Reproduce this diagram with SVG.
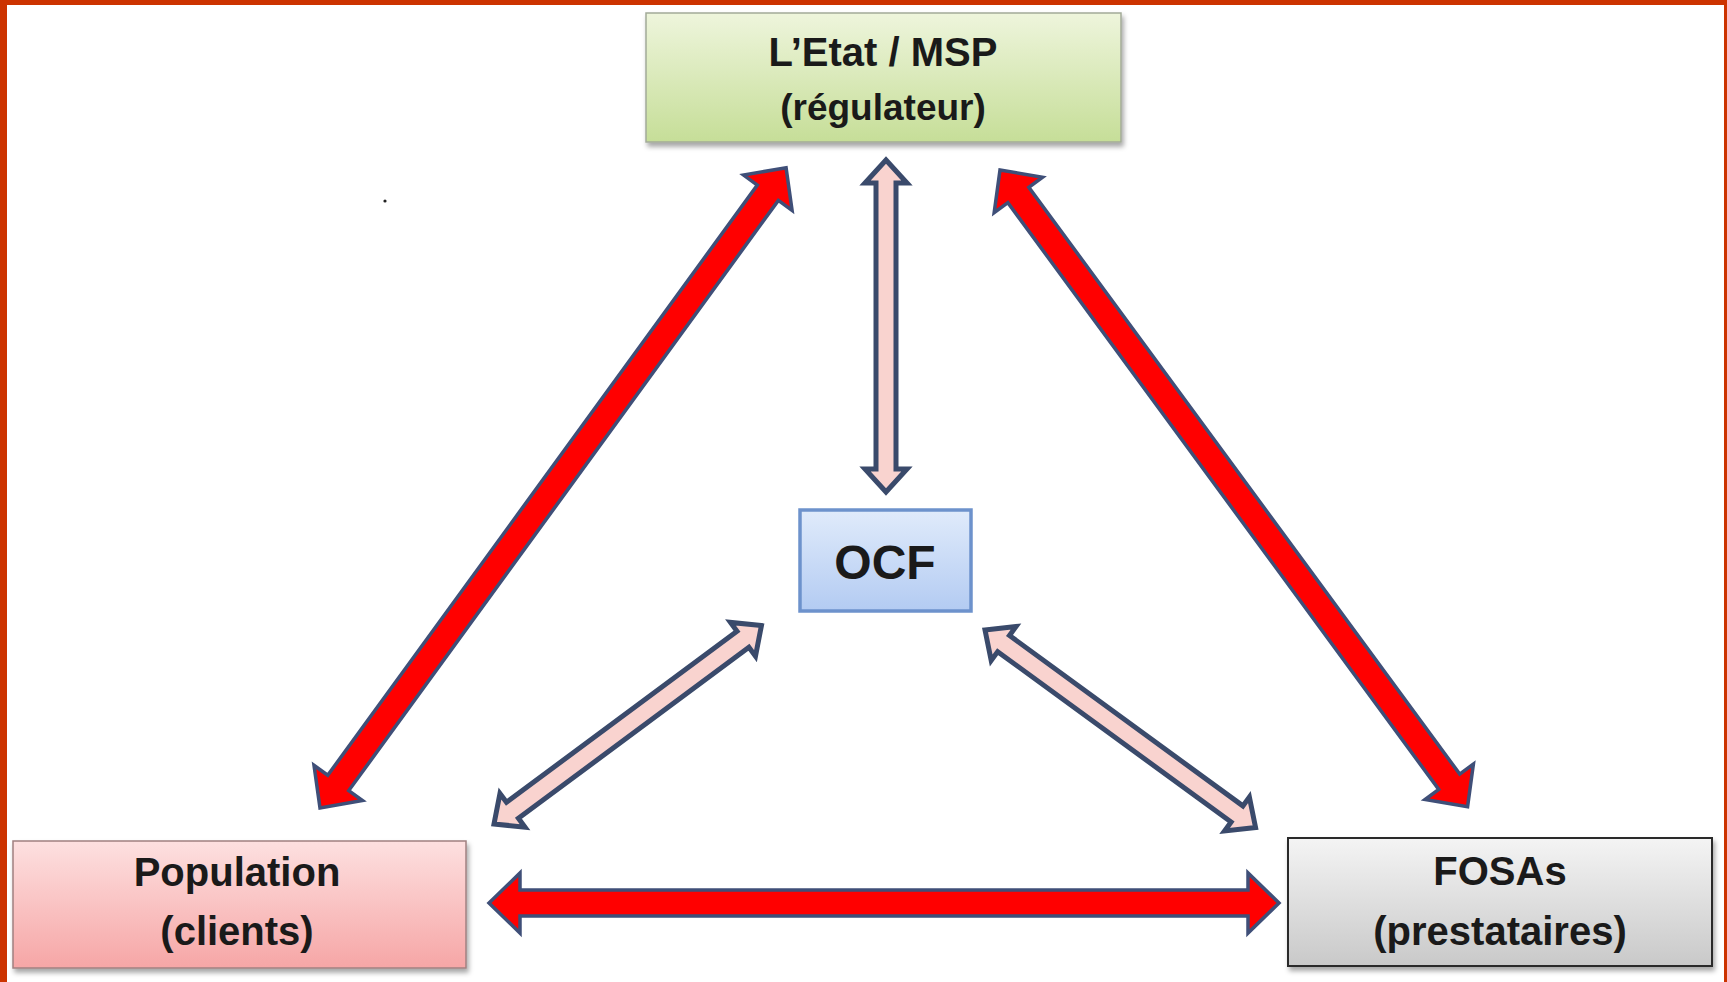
<svg xmlns="http://www.w3.org/2000/svg" width="1727" height="982" viewBox="0 0 1727 982">
  <style>
    .lbl { font-family: "Liberation Sans", Arial, sans-serif; font-weight: bold; font-size: 40px; fill: #1a1a1a; text-anchor: middle; }
    .ocf { font-size: 48px; }
    .sm { font-size: 37px; }
    .red { fill: #ff0000; stroke: #3f4f78; stroke-width: 3.5; stroke-linejoin: miter; }
    .pink { fill: #f9d3cf; stroke: #3a4a6b; stroke-width: 5; stroke-linejoin: miter; }
  </style>
  <defs>
    <linearGradient id="gGreen" x1="0" y1="0" x2="0" y2="1">
      <stop offset="0" stop-color="#eef5dc"/>
      <stop offset="1" stop-color="#c6de98"/>
    </linearGradient>
    <linearGradient id="gPink" x1="0" y1="0" x2="0" y2="1">
      <stop offset="0" stop-color="#fde0e0"/>
      <stop offset="1" stop-color="#f6a6a6"/>
    </linearGradient>
    <linearGradient id="gGray" x1="0" y1="0" x2="0" y2="1">
      <stop offset="0" stop-color="#f4f4f4"/>
      <stop offset="1" stop-color="#c9c9c9"/>
    </linearGradient>
    <linearGradient id="gBlue" x1="0" y1="0" x2="0" y2="1">
      <stop offset="0" stop-color="#e0ebfb"/>
      <stop offset="1" stop-color="#b3cbf2"/>
    </linearGradient>
    <filter id="shadow" x="-5%" y="-10%" width="115%" height="130%">
      <feDropShadow dx="2" dy="4" stdDeviation="2.5" flood-color="#000" flood-opacity="0.35"/>
    </filter>
  </defs>

  <rect x="0" y="0" width="1727" height="982" fill="#ffffff"/>
  <!-- frame -->
  <rect x="0" y="0" width="1727" height="5" fill="#cc3300"/>
  <rect x="0" y="0" width="7" height="982" fill="#cc3300"/>
  <rect x="1724" y="0" width="3" height="982" fill="#cc3300"/>

  <circle cx="385" cy="201" r="1.6" fill="#222"/>

  <g id="connectors">
    <!-- red: Population <-> Etat -->
    <g transform="translate(320,808) rotate(-53.95)">
      <polygon class="red" points="0,0 31,-30 31,-13 761,-13 761,-30 792,0 761,30 761,13 31,13 31,30"/>
    </g>
    <!-- red: Etat <-> FOSAs -->
    <g transform="translate(1000,170) rotate(53.71)">
      <polygon class="red" points="0,0 31,-30 31,-13 759,-13 759,-30 790,0 759,30 759,13 31,13 31,30"/>
    </g>
    <!-- red: Population <-> FOSAs -->
    <g transform="translate(489,903)">
      <polygon class="red" points="0,0 31,-30 31,-13 759,-13 759,-30 790,0 759,30 759,13 31,13 31,30"/>
    </g>
    <!-- pink: Etat <-> OCF -->
    <g transform="translate(886,160) rotate(90)">
      <polygon class="pink" points="0,0 23,-21 23,-10 309,-10 309,-21 332,0 309,21 309,10 23,10 23,21"/>
    </g>
    <!-- pink: Population <-> OCF -->
    <g transform="translate(494,824) rotate(-36.57)">
      <polygon class="pink" points="0,0 23,-21 23,-10 310,-10 310,-21 333,0 310,21 310,10 23,10 23,21"/>
    </g>
    <!-- pink: OCF <-> FOSAs -->
    <g transform="translate(985,630) rotate(36.13)">
      <polygon class="pink" points="0,0 23,-21 23,-10 312,-10 312,-21 335,0 312,21 312,10 23,10 23,21"/>
    </g>
  </g>

  <g id="etat">
    <rect x="646" y="13" width="475" height="129" fill="url(#gGreen)" stroke="#a3aa98" stroke-width="1.5" filter="url(#shadow)"/>
    <text class="lbl" x="883" y="66">L’Etat / MSP</text>
    <text class="lbl sm" x="883" y="120">(régulateur)</text>
  </g>

  <g id="ocf">
    <rect x="800" y="510" width="171" height="101" fill="url(#gBlue)" stroke="#6d92cc" stroke-width="3.5"/>
    <text class="lbl ocf" x="885" y="579">OCF</text>
  </g>

  <g id="population">
    <rect x="13" y="841" width="453" height="127" fill="url(#gPink)" stroke="#a08080" stroke-width="1.5" filter="url(#shadow)"/>
    <text class="lbl" x="237" y="886">Population</text>
    <text class="lbl" x="237" y="945">(clients)</text>
  </g>

  <g id="fosas">
    <rect x="1288" y="838" width="424" height="128" fill="url(#gGray)" stroke="#2b2b2b" stroke-width="2" filter="url(#shadow)"/>
    <text class="lbl" x="1500" y="885">FOSAs</text>
    <text class="lbl" x="1500" y="945">(prestataires)</text>
  </g>
</svg>
